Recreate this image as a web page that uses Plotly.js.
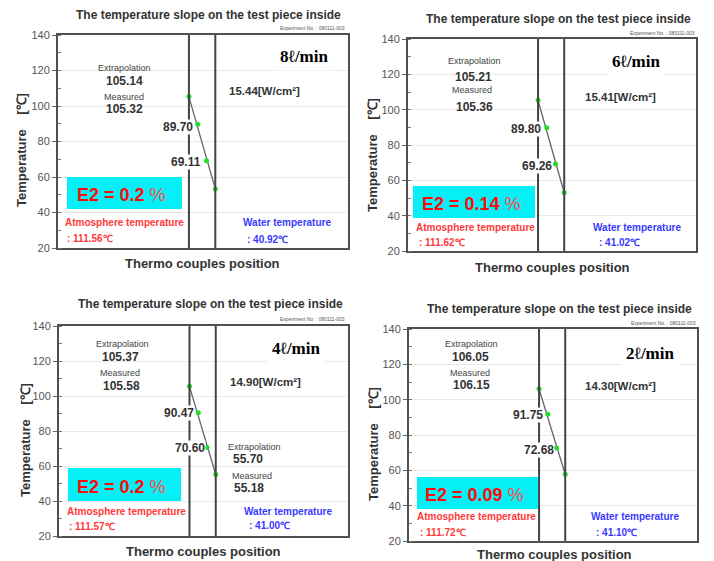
<!DOCTYPE html>
<html><head><meta charset="utf-8">
<script src="https://cdn.plot.ly/plotly-3.0.1.min.js"></script>
<style>html,body{margin:0;padding:0;background:#fff}</style>
</head><body>
<div id="chart" style="width:714px;height:561px"></div>
<script>
// ---------- data ----------
const tcPos = [0, 1, 2, 3];                       // thermocouple positions (hot side .. water side)
const temps8 = [105.32, 89.70, 69.11, 53.3];
const temps6 = [105.36, 89.80, 69.26, 53.0];
const temps4 = [105.58, 90.47, 70.60, 55.18];
const temps2 = [106.15, 91.75, 72.68, 57.8];
const extrapHot = ['105.14', '105.21', '105.37', '106.05'];
const measuredHot = ['105.32', '105.36', '105.58', '106.15'];
const flowLabels = ['8ℓ/min', '6ℓ/min', '4ℓ/min', '2ℓ/min'];
const heatFlux = ['15.44', '15.41', '14.90', '14.30'];
const e2Values = ['0.2', '0.14', '0.2', '0.09'];
const atmTemps = ['111.56', '111.62', '111.57', '111.72'];
const waterTemps = ['40.92', '41.02', '41.00', '41.10'];
const yTickVals = [20, 40, 60, 80, 100, 120, 140];
const coldExtrap4 = '55.70', coldMeasured4 = '55.18';
const allTemps = [temps8, temps6, temps4, temps2];

// ---------- layout helpers ----------
const W = 714, H = 561;
const F = 'Liberation Sans, Arial, sans-serif';
const px = x => x / W, py = y => 1 - y / H;
function txt(x, y, text, size, color, extra) {
  return Object.assign({xref: 'paper', yref: 'paper', x: px(x), y: py(y), text: text,
    showarrow: false, xanchor: 'center', yanchor: 'middle',
    font: {family: F, size: size, color: color}}, extra || {});
}
// pixel geometry of each panel (measured)
const G = [
  {plot: [58, 348, 35, 248], title: [208, 15], exp: [347, 28], ex: [125, 68], exv: [124, 81], me: [124, 97], mev: [124, 109],
   flow: [304, 57], flux: [264, 91], l2: [178, 127], l3: [186, 162], box: [67, 182, 177, 209], e2: [121, 195],
   atm: [124, 223], atmv: [65, 238], wat: [287, 223], watv: [245, 239], xt: [202, 263], yt: [22, 150]},
  {plot: [408, 696, 39, 251], title: [558, 19], exp: [697, 33], ex: [474, 61], exv: [473, 77], me: [472, 90], mev: [474, 107],
   flow: [636, 61], flux: [620, 97], l2: [526, 129], l3: [537, 166], box: [413, 535, 186, 218], e2: [471, 204],
   atm: [475, 227], atmv: [417, 242], wat: [637, 227], watv: [597, 242], xt: [552, 267], yt: [372, 155]},
  {plot: [59, 348, 326, 536], title: [210, 304], exp: [347, 319], ex: [122, 344], exv: [120, 357], me: [120, 373], mev: [121, 386],
   flow: [296, 348], flux: [265, 382], l2: [179, 413], l3: [190, 448], box: [68, 181, 468, 501], e2: [121, 487],
   atm: [126, 512], atmv: [67, 526], wat: [288, 511], watv: [247, 525], xt: [203, 551], yt: [25, 440]},
  {plot: [409, 697, 329, 541], title: [559, 309], exp: [698, 323], ex: [471, 344], exv: [470, 357], me: [470, 373], mev: [471, 385],
   flow: [650, 353], flux: [620, 386], l2: [528, 415], l3: [539, 450], box: [417, 538, 477, 509], e2: [474, 495],
   atm: [477, 516], atmv: [418, 532], wat: [635, 516], watv: [594, 532], xt: [554, 554], yt: [373, 444]}
];

const data = [], shapes = [], annotations = [];
const layout = {width: W, height: H, margin: {l: 0, r: 0, t: 0, b: 0}, showlegend: false,
  paper_bgcolor: '#fff', plot_bgcolor: '#fff', font: {family: F}};

G.forEach((g, i) => {
  const n = i === 0 ? '' : String(i + 1);
  const xa = 'x' + n, ya = 'y' + n;
  const temps = allTemps[i];
  layout['xaxis' + n] = {domain: [px(g.plot[0]), px(g.plot[1])], range: [-14.9, 18.1], anchor: ya,
    showgrid: false, zeroline: false, showticklabels: false, ticks: '',
    showline: true, mirror: true, linecolor: '#505050', linewidth: 2, fixedrange: true};
  layout['yaxis' + n] = {domain: [py(g.plot[3]), py(g.plot[2])], range: [20, 140], anchor: xa,
    tickvals: yTickVals, ticks: 'outside', ticklen: 4, tickcolor: '#666', tickwidth: 1,
    minor: {dtick: 10, ticks: 'inside', ticklen: 3, tickcolor: '#777', showgrid: false},
    showgrid: true, gridcolor: '#e9e9e9', gridwidth: 1, zeroline: false,
    showline: true, mirror: true, linecolor: '#505050', linewidth: 2,
    tickfont: {family: F, size: 11, color: '#555'}, fixedrange: true};
  // fitted line through the thermocouple readings
  data.push({x: [tcPos[0], tcPos[3]], y: [parseFloat(extrapHot[i]), temps[3]], xaxis: xa, yaxis: ya,
    mode: 'lines', line: {color: '#666', width: 1.3}, hoverinfo: 'skip'});
  data.push({x: tcPos, y: temps, xaxis: xa, yaxis: ya, mode: 'markers',
    marker: {color: '#22dd22', size: 5}, hoverinfo: 'y'});
  // vertical boundary lines (test piece surfaces)
  [tcPos[0], tcPos[3]].forEach(v => shapes.push({type: 'line', xref: xa, yref: ya + ' domain', x0: v, x1: v, y0: 0, y1: 1,
    line: {color: '#444', width: 2}}));
  // cyan box
  shapes.push({type: 'rect', xref: 'paper', yref: 'paper', x0: px(g.box[0]), x1: px(g.box[1]),
    y0: py(g.box[3]), y1: py(g.box[2]), fillcolor: '#05f0f6', line: {width: 0}, layer: 'above'});

  annotations.push(txt(g.title[0], g.title[1], '<b>The temperature slope on the test piece inside</b>', 12, '#333'));
  annotations.push(txt(g.exp[0], g.exp[1], 'Experiment No. : 080111-003', 5, '#555', {xanchor: 'right'}));
  annotations.push(txt(g.ex[0], g.ex[1], 'Extrapolation', 9, '#444'));
  annotations.push(txt(g.exv[0], g.exv[1], '<b>' + extrapHot[i] + '</b>', 12, '#333'));
  annotations.push(txt(g.me[0], g.me[1], 'Measured', 9, '#444'));
  annotations.push(txt(g.mev[0], g.mev[1], '<b>' + measuredHot[i] + '</b>', 12, '#333'));
  annotations.push(txt(g.flow[0], g.flow[1], '<b>' + flowLabels[i] + '</b>', 17, '#000',
    {font: {family: 'Liberation Serif, Times New Roman, serif', size: 17, color: '#000'}, bgcolor: '#fff', borderpad: 4}));
  annotations.push(txt(g.flux[0], g.flux[1], '<b>' + heatFlux[i] + '[W/cm²]</b>', 11.5, '#333'));
  annotations.push(txt(g.l2[0], g.l2[1], '<b>' + temps[1].toFixed(2) + '</b>', 12, '#333', {bgcolor: '#fff', borderpad: 0}));
  annotations.push(txt(g.l3[0], g.l3[1], '<b>' + temps[2].toFixed(2) + '</b>', 12, '#333', {bgcolor: '#fff', borderpad: 0}));
  annotations.push(txt(g.e2[0], g.e2[1], '<b>E2 = ' + e2Values[i] + '</b><span style="font-weight:normal;color:#ff4a4a"> %</span>', 18, '#ff0a0a'));
  annotations.push(txt(g.atm[0], g.atm[1], '<b>Atmosphere temperature</b>', 10, '#ff3a3a'));
  annotations.push(txt(g.atmv[0], g.atmv[1], '<b>: ' + atmTemps[i] + '℃</b>', 10, '#ff3a3a', {xanchor: 'left'}));
  annotations.push(txt(g.wat[0], g.wat[1], '<b>Water temperature</b>', 10, '#3a3aff'));
  annotations.push(txt(g.watv[0], g.watv[1], '<b>: ' + waterTemps[i] + '℃</b>', 10, '#3a3aff', {xanchor: 'left'}));
  annotations.push(txt(g.xt[0], g.xt[1], '<b>Thermo couples position</b>', 13, '#333'));
  annotations.push(txt(g.yt[0], g.yt[1], '<b>Temperature    [℃]</b>', 13, '#333', {textangle: -90}));
});
// cold-side labels in the 4 l/min panel
annotations.push(txt(254, 447, 'Extrapolation', 9, '#444', {bgcolor: '#fff'}));
annotations.push(txt(248, 459, '<b>' + coldExtrap4 + '</b>', 12, '#333'));
annotations.push(txt(252, 476, 'Measured', 9, '#444'));
annotations.push(txt(249, 488, '<b>' + coldMeasured4 + '</b>', 12, '#333'));

layout.shapes = shapes;
layout.annotations = annotations;
Plotly.newPlot('chart', data, layout, {displayModeBar: false, staticPlot: true});
</script>
</body></html>
